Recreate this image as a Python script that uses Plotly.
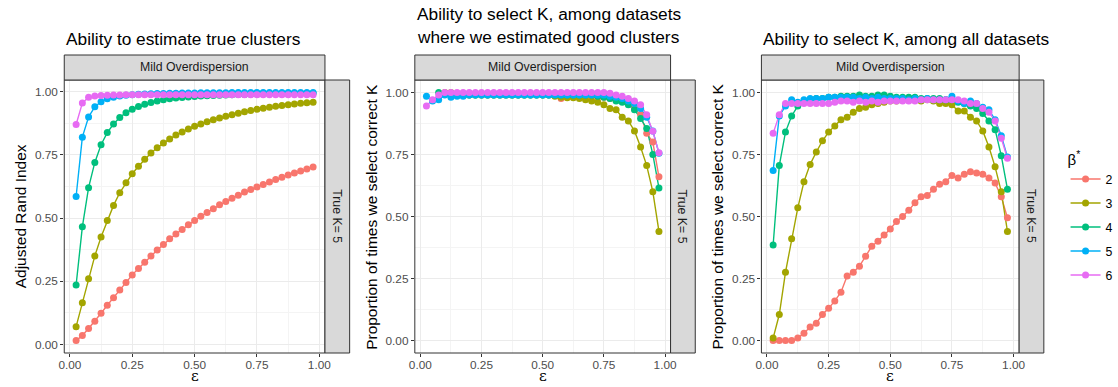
import plotly.graph_objects as go

W, H = 1118, 387

# ---------------- data ----------------
eps = [0.025, 0.05, 0.075, 0.1, 0.125, 0.15, 0.175, 0.2, 0.225, 0.25,
       0.275, 0.3, 0.325, 0.35, 0.375, 0.4, 0.425, 0.45, 0.475, 0.5,
       0.525, 0.55, 0.575, 0.6, 0.625, 0.65, 0.675, 0.7, 0.725, 0.75,
       0.775, 0.8, 0.825, 0.85, 0.875, 0.9, 0.925, 0.95, 0.975]

beta_labels = ["2", "3", "4", "5", "6"]
beta_colors = ["#F8766D", "#A3A500", "#00BF7D", "#00B0F6", "#E76BF3"]

# Panel 1: Adjusted Rand Index
ari_b2 = [0.015, 0.035, 0.063, 0.092, 0.123, 0.155, 0.185, 0.215, 0.245, 0.275,
          0.300, 0.325, 0.350, 0.373, 0.395, 0.418, 0.437, 0.455, 0.473, 0.490,
          0.507, 0.522, 0.537, 0.552, 0.565, 0.578, 0.590, 0.603, 0.613, 0.623,
          0.633, 0.643, 0.652, 0.661, 0.670, 0.678, 0.686, 0.694, 0.702]
ari_b3 = [0.070, 0.165, 0.260, 0.350, 0.425, 0.490, 0.550, 0.600, 0.640, 0.675,
          0.705, 0.733, 0.757, 0.778, 0.797, 0.813, 0.828, 0.840, 0.852, 0.863,
          0.872, 0.881, 0.889, 0.896, 0.903, 0.909, 0.915, 0.920, 0.925, 0.930,
          0.934, 0.938, 0.942, 0.945, 0.948, 0.951, 0.954, 0.956, 0.958]
ari_b4 = [0.235, 0.465, 0.620, 0.720, 0.790, 0.838, 0.872, 0.898, 0.917, 0.930,
          0.941, 0.950, 0.957, 0.963, 0.968, 0.972, 0.975, 0.977, 0.979, 0.981,
          0.983, 0.984, 0.985, 0.986, 0.987, 0.988, 0.989, 0.989, 0.990, 0.990,
          0.991, 0.991, 0.992, 0.992, 0.992, 0.993, 0.993, 0.993, 0.994]
ari_b5 = [0.585, 0.820, 0.900, 0.940, 0.960, 0.972, 0.978, 0.983, 0.986, 0.988,
          0.990, 0.991, 0.992, 0.993, 0.993, 0.994, 0.994, 0.995, 0.995, 0.995,
          0.996, 0.996, 0.996, 0.996, 0.996, 0.997, 0.997, 0.997, 0.997, 0.997,
          0.997, 0.997, 0.997, 0.997, 0.997, 0.997, 0.997, 0.997, 0.997]
ari_b6 = [0.870, 0.955, 0.978, 0.983, 0.985, 0.986, 0.987, 0.987, 0.988, 0.988,
          0.988, 0.988, 0.988, 0.988, 0.988, 0.988, 0.988, 0.988, 0.988, 0.988,
          0.988, 0.988, 0.988, 0.988, 0.988, 0.988, 0.988, 0.988, 0.988, 0.988,
          0.988, 0.988, 0.988, 0.988, 0.988, 0.988, 0.988, 0.988, 0.988]

# Panel 2: proportion selecting correct K, among datasets with good clusters
good_b2 = [None, None, None, None, None, 0.995, 0.995, 0.995, 0.995, 0.995,
           0.995, 0.995, 0.995, 0.995, 0.995, 0.995, 0.995, 0.995, 0.995, 0.995,
           0.995, 0.995, 0.975, 0.985, 0.985, 0.985, 0.985, 0.985, 0.980, 0.980,
           0.975, 0.970, 0.965, 0.955, 0.935, 0.910, 0.835, 0.800, 0.660]
good_b3 = [None, None, None, 1.000, 1.000, 0.995, 0.990, 0.990, 0.990, 0.990,
           0.990, 0.990, 0.990, 0.990, 0.990, 0.990, 0.990, 0.990, 0.990, 0.990,
           0.990, 0.985, 0.980, 0.978, 0.978, 0.975, 0.970, 0.965, 0.960, 0.950,
           0.935, 0.930, 0.900, 0.885, 0.845, 0.780, 0.705, 0.600, 0.440]
good_b4 = [None, None, 1.000, 0.995, 0.990, 0.990, 0.990, 0.990, 0.990, 0.990,
           0.990, 0.990, 0.990, 0.990, 0.990, 0.990, 0.990, 0.990, 0.990, 0.990,
           0.990, 0.990, 0.990, 0.990, 0.990, 0.990, 0.990, 0.990, 0.985, 0.980,
           0.975, 0.965, 0.960, 0.950, 0.930, 0.895, 0.855, 0.750, 0.615]
good_b5 = [0.985, 0.965, 0.970, 0.990, 0.980, 0.985, 0.985, 0.990, 0.990, 0.990,
           0.990, 0.990, 0.990, 0.990, 0.990, 0.990, 0.990, 0.990, 0.990, 0.990,
           0.990, 0.990, 0.990, 0.990, 0.990, 0.990, 0.990, 0.990, 0.990, 0.990,
           0.985, 0.980, 0.975, 0.965, 0.955, 0.935, 0.900, 0.845, 0.755]
good_b6 = [0.945, 0.970, 0.990, 1.000, 1.000, 1.000, 1.000, 1.000, 1.000, 1.000,
           1.000, 1.000, 1.000, 1.000, 1.000, 1.000, 1.000, 1.000, 1.000, 1.000,
           1.000, 1.000, 1.000, 1.000, 1.000, 1.000, 1.000, 1.000, 1.000, 1.000,
           0.997, 0.990, 0.985, 0.975, 0.965, 0.950, 0.910, 0.843, 0.757]

# Panel 3: proportion selecting correct K, among all datasets
all_b2 = [0.000, 0.000, 0.000, 0.000, 0.010, 0.030, 0.055, 0.070, 0.105, 0.130,
          0.160, 0.195, 0.260, 0.275, 0.300, 0.340, 0.380, 0.400, 0.425, 0.450,
          0.480, 0.500, 0.525, 0.555, 0.580, 0.585, 0.610, 0.630, 0.640, 0.665,
          0.655, 0.670, 0.680, 0.675, 0.670, 0.655, 0.635, 0.580, 0.495]
all_b3 = [0.010, 0.105, 0.275, 0.410, 0.535, 0.640, 0.710, 0.760, 0.805, 0.840,
          0.865, 0.890, 0.900, 0.920, 0.935, 0.940, 0.950, 0.955, 0.960, 0.965,
          0.965, 0.970, 0.970, 0.970, 0.965, 0.970, 0.965, 0.955, 0.955, 0.950,
          0.925, 0.925, 0.900, 0.885, 0.845, 0.780, 0.700, 0.600, 0.440]
all_b4 = [0.385, 0.705, 0.840, 0.905, 0.945, 0.960, 0.970, 0.975, 0.975, 0.980,
          0.980, 0.985, 0.985, 0.985, 0.990, 0.985, 0.985, 0.990, 0.990, 0.985,
          0.980, 0.980, 0.980, 0.980, 0.975, 0.975, 0.975, 0.975, 0.970, 0.970,
          0.960, 0.955, 0.945, 0.935, 0.915, 0.885, 0.850, 0.745, 0.610]
all_b5 = [0.685, 0.905, 0.945, 0.970, 0.960, 0.970, 0.975, 0.975, 0.975, 0.980,
          0.980, 0.980, 0.980, 0.980, 0.975, 0.980, 0.975, 0.980, 0.975, 0.975,
          0.975, 0.975, 0.970, 0.975, 0.970, 0.975, 0.970, 0.970, 0.970, 0.985,
          0.965, 0.955, 0.965, 0.955, 0.940, 0.930, 0.890, 0.825, 0.740]
all_b6 = [0.835, 0.910, 0.955, 0.955, 0.955, 0.955, 0.955, 0.955, 0.955, 0.955,
          0.960, 0.965, 0.965, 0.960, 0.965, 0.960, 0.965, 0.960, 0.965, 0.965,
          0.965, 0.965, 0.965, 0.965, 0.970, 0.970, 0.970, 0.970, 0.970, 0.970,
          0.970, 0.965, 0.955, 0.955, 0.935, 0.920, 0.885, 0.815, 0.735]

x_ticks = [0.0, 0.25, 0.5, 0.75, 1.0]
y_ticks = [0.0, 0.25, 0.5, 0.75, 1.0]
tick_text = ["0.00", "0.25", "0.50", "0.75", "1.00"]

titles = [["Ability to estimate true clusters"],
          ["Ability to select K, among datasets", "where we estimated good clusters"],
          ["Ability to select K, among all datasets"]]
y_titles = ["Adjusted Rand Index",
            "Proportion of times we select correct K",
            "Proportion of times we select correct K"]
strip_top = "Mild Overdispersion"
strip_right = "True K= 5"

# ---------------- layout helpers ----------------
def fx(p):
    return p / W

def fy(p):
    return 1 - p / H

FONT = "Liberation Sans, Arial, Helvetica, sans-serif"
panels_px = [(59, 323), (414, 673), (765, 1026)]
TOP, BOTTOM = 80, 353
STRIP_H = 25
STRIP_W = 25

panel_series = [
    [ari_b2, ari_b3, ari_b4, ari_b5, ari_b6],
    [good_b2, good_b3, good_b4, good_b5, good_b6],
    [all_b2, all_b3, all_b4, all_b5, all_b6],
]
y_ranges = [[-0.0341, 1.0461], [-0.05, 1.05], [-0.05, 1.05]]

fig = go.Figure()

for i, series in enumerate(panel_series):
    xa = "x" if i == 0 else f"x{i+1}"
    ya = "y" if i == 0 else f"y{i+1}"
    # lines first (all groups), then points (as ggplot draws layers)
    for vals, col in zip(series, beta_colors):
        fig.add_trace(go.Scatter(x=eps, y=vals, mode="lines", xaxis=xa, yaxis=ya,
                                 line=dict(color=col, width=1.4),
                                 showlegend=False, hoverinfo="skip"))
    for vals, col, lab in zip(series, beta_colors, beta_labels):
        fig.add_trace(go.Scatter(x=eps, y=vals, mode="markers", xaxis=xa, yaxis=ya,
                                 marker=dict(color=col, size=7, line=dict(width=0)),
                                 name=lab, showlegend=False))

# legend entries
for col, lab in zip(beta_colors, beta_labels):
    fig.add_trace(go.Scatter(x=[None], y=[None], mode="lines+markers", name=lab,
                             legendgroup=lab,
                             line=dict(color=col, width=1.4),
                             marker=dict(color=col, size=7), showlegend=True))

shapes = []
annotations = []
axis_common = dict(
    showline=False, zeroline=False, showgrid=True,
    gridcolor="#EBEBEB", gridwidth=1.1,
    ticks="outside", ticklen=3, tickwidth=1, tickcolor="#333333",
    tickfont=dict(family=FONT, size=11.8, color="#4D4D4D"),
    minor=dict(showgrid=True, gridcolor="#F4F4F4", gridwidth=0.6, ticks=""),
)

for i, (l, r) in enumerate(panels_px):
    suffix = "" if i == 0 else str(i + 1)
    fig.layout["xaxis" + suffix] = go.layout.XAxis(
        domain=[fx(l), fx(r)], range=[-0.0225, 1.0225],
        anchor="y" + suffix, tickvals=x_ticks, ticktext=tick_text,
        ticklabelstandoff=-2,
        **axis_common)
    fig.layout["xaxis" + suffix].minor.tickvals = [0.125, 0.375, 0.625, 0.875]
    fig.layout["yaxis" + suffix] = go.layout.YAxis(
        domain=[fy(BOTTOM), fy(TOP)], range=y_ranges[i],
        anchor="x" + suffix, tickvals=y_ticks, ticktext=tick_text,
        **axis_common)
    fig.layout["yaxis" + suffix].minor.tickvals = [0.125, 0.375, 0.625, 0.875]

    # panel border
    shapes.append(dict(type="rect", xref="paper", yref="paper",
                       x0=fx(l), x1=fx(r), y0=fy(BOTTOM), y1=fy(TOP),
                       line=dict(color="#333333", width=1), fillcolor="rgba(0,0,0,0)",
                       layer="above"))
    # top strip
    shapes.append(dict(type="rect", xref="paper", yref="paper",
                       x0=fx(l), x1=fx(r), y0=fy(TOP), y1=fy(TOP - STRIP_H),
                       line=dict(color="#333333", width=1), fillcolor="#D9D9D9",
                       layer="above"))
    annotations.append(dict(text=strip_top, xref="paper", yref="paper",
                            x=fx((l + r) / 2), y=fy(TOP - STRIP_H / 2),
                            xanchor="center", yanchor="middle", showarrow=False,
                            font=dict(family=FONT, size=12.3, color="#1A1A1A")))
    # right strip
    shapes.append(dict(type="rect", xref="paper", yref="paper",
                       x0=fx(r), x1=fx(r + STRIP_W), y0=fy(BOTTOM), y1=fy(TOP),
                       line=dict(color="#333333", width=1), fillcolor="#D9D9D9",
                       layer="above"))
    annotations.append(dict(text=strip_right, xref="paper", yref="paper",
                            x=fx(r + STRIP_W / 2), y=fy((TOP + BOTTOM) / 2),
                            xanchor="center", yanchor="middle", showarrow=False,
                            textangle=90,
                            font=dict(family=FONT, size=12.3, color="#1A1A1A")))
    # titles
    lines = titles[i]
    if len(lines) == 1:
        ys = [39]
    else:
        ys = [14, 37]
    for t, yy in zip(lines, ys):
        annotations.append(dict(text=t, xref="paper", yref="paper",
                                x=fx(l), y=fy(yy), xanchor="left", yanchor="middle",
                                showarrow=False,
                                font=dict(family=FONT, size=17.3, color="#000000")))
    # y axis title
    annotations.append(dict(text=y_titles[i], xref="paper", yref="paper",
                            x=fx(l - 44), y=fy((TOP + BOTTOM) / 2),
                            xanchor="center", yanchor="middle", showarrow=False,
                            textangle=-90,
                            font=dict(family=FONT, size=15.5, color="#000000")))
    # x axis title
    annotations.append(dict(text="ε", xref="paper", yref="paper",
                            x=fx((l + r) / 2), y=fy(387), yanchor="bottom",
                            xanchor="center", showarrow=False,
                            font=dict(family="DejaVu Serif, serif", size=15, color="#000000")))

fig.update_layout(
    width=W, height=H,
    margin=dict(l=0, r=0, t=0, b=0),
    paper_bgcolor="white", plot_bgcolor="white",
    shapes=shapes, annotations=annotations,
    showlegend=True,
    legend=dict(
        x=fx(1073), y=fy(145), xanchor="left", yanchor="top",
        title=dict(text="β<sup>*</sup>", font=dict(family=FONT, size=15, color="#000000")),
        font=dict(family=FONT, size=12.3, color="#000000"),
        bgcolor="rgba(0,0,0,0)", tracegroupgap=5,
    ),
)

fig.write_html("out.html")
